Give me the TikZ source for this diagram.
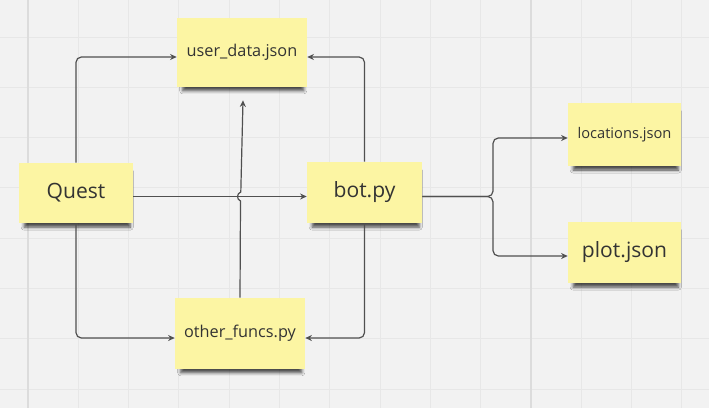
\documentclass[tikz,border=0pt]{standalone}
\usepackage{fontspec}
\setmainfont{Open Sans}
\usetikzlibrary{arrows.meta,calc,shadows.blur}
\definecolor{bgc}{HTML}{F2F2F2}
\definecolor{gridc}{HTML}{E7E7E7}
\definecolor{gridmaj}{HTML}{DCDCDC}
\definecolor{notey}{HTML}{FCF5A3}
\definecolor{notetext}{HTML}{333333}
\definecolor{linec}{HTML}{505050}
\begin{document}
\begin{tikzpicture}[x=0.75pt,y=-0.75pt,
  note/.style={fill=notey, inner sep=0pt, text=notetext, align=center,
    blur shadow={shadow xshift=1pt, shadow yshift=-5pt, shadow scale=0.93,
      shadow blur radius=2.5pt, shadow opacity=70}},
  conn/.style={draw=linec, line width=0.9pt, rounded corners=4pt,
    -{Stealth[length=5pt,width=4.5pt]}},
  big/.style={font=\fontsize{15.8}{19}\selectfont},
  mid/.style={font=\fontsize{12.2}{15}\selectfont},
  small/.style={font=\fontsize{11}{13}\selectfont}
]
% background and grid
\fill[bgc] (0,0) rectangle (709,408);
\useasboundingbox (0,0) rectangle (709,408);
\foreach \k in {0,...,13} {
  \draw[gridc, line width=0.75pt] ({28+50.3*\k},0) -- ({28+50.3*\k},408);
}
\foreach \k in {0,...,7} {
  \draw[gridc, line width=0.75pt] (0,{37+50.3*\k}) -- (709,{37+50.3*\k});
}
\draw[gridmaj, line width=0.9pt] (28,0) -- (28,408);
\draw[gridmaj, line width=0.9pt] (531,0) -- (531,408);

% notes
\node[note, mid, minimum width=97.5pt, minimum height=51.75pt] (ud) at (242,52.5) {user\_data.json};
\node[note, big, minimum width=85.5pt, minimum height=45pt] (q) at (76,193) {Quest};
\node[note, big, minimum width=86.25pt, minimum height=45.75pt] (bot) at (364.5,192.5) {bot.py};
\node[note, mid, minimum width=97.5pt, minimum height=53.25pt] (of) at (240,333.5) {other\_funcs.py};
\node[note, small, minimum width=84.75pt, minimum height=47.25pt] (loc) at (624.5,134.5) {locations.json};
\node[note, big, minimum width=84.75pt, minimum height=45.75pt] (plot) at (624.5,252.5) {plot.json};

% connectors
\draw[conn] (q.north) |- ($(ud.west)+(0,4.5)$);
\draw[conn] (bot.north) |- ($(ud.east)+(0,4.5)$);
\draw[conn] (q.south) |- ($(of.west)+(0,4.5)$);
\draw[conn] (bot.south) |- ($(of.east)+(0,4.5)$);
\draw[conn] ($(q.east)+(0,3.5)$) -- ($(bot.west)+(0,4)$);

% other_funcs -> user_data with a hop over the horizontal line
\coordinate (udb) at ($(ud.south)+(1,13)$);
\draw[draw=linec, line width=0.9pt, -{Stealth[length=5pt,width=4.5pt]}]
  (of.north) -- (240.5,201) .. controls (236.5,199.5) and (236.5,193.5) .. (240.8,192) -- (udb);

% branch from bot.py
\coordinate (br) at (493,196.5);
\draw[conn] ($(bot.east)+(0,4)$) -- (br) -- (br |- {$(loc.west)+(0,3.5)$}) -- ($(loc.west)+(0,3.5)$);
\draw[conn] ($(bot.east)+(0,4)$) -- (br) -- (br |- {$(plot.west)+(0,3.5)$}) -- ($(plot.west)+(0,3.5)$);
\end{tikzpicture}
\end{document}
